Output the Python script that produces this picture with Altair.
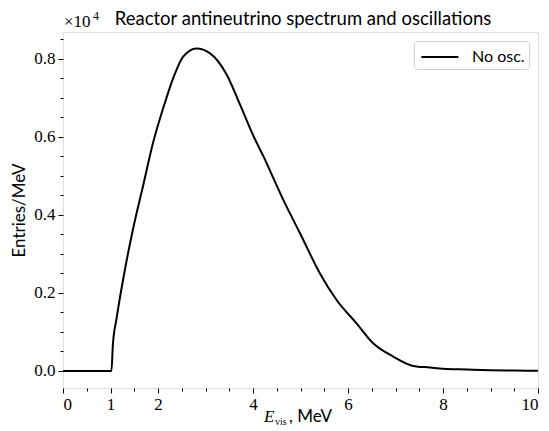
import altair as alt
import pandas as pd

energy = [0, 1.0, 1.02, 1.05, 1.13, 1.31, 1.48, 1.69, 1.90, 2.11, 2.32, 2.53, 2.81, 3.09,
          3.45, 3.73, 4.0, 4.22, 4.64, 4.99, 5.41, 5.76, 6.18, 6.53, 6.95, 7.37, 7.73,
          8.0, 8.5, 9.0, 9.5, 10.0]
entries = [0, 0, 0, 670, 1360, 2640, 3670, 4770, 5870, 6740, 7510, 8060, 8270, 8150,
           7590, 6820, 6050, 5500, 4380, 3530, 2500, 1820, 1220, 710, 370, 130, 90,
           60, 40, 20, 10, 5]
series = ["No osc."] * len(energy)

x_major = [0, 1, 2, 4, 6, 8, 10]
x_minor = [0.5, 1.5, 2.5, 3, 3.5, 4.5, 5, 5.5, 6.5, 7, 7.5, 8.5, 9, 9.5]
y_major = [0, 2000, 4000, 6000, 8000]
y_minor = [500, 1000, 1500, 2500, 3000, 3500, 4500, 5000, 5500, 6500, 7000, 7500, 8500]

title_text = "Reactor antineutrino spectrum and oscillations"

df = pd.DataFrame({"E": energy, "N": entries, "s": series})

XD = [0, 10]
YD = [-436, 8690]
W, H = 475, 356
serif = "Liberation Serif, Times New Roman, serif"
sans = "Lato"

base = alt.Chart(df)

line = base.mark_line(strokeWidth=2, interpolate="monotone").encode(
    x=alt.X("E:Q", scale=alt.Scale(domain=XD, nice=False, zero=False),
            axis=alt.Axis(values=x_major, format="d", title=None, grid=False,
                          tickSize=5, labelFont=serif, labelFontSize=17,
                          labelColor="black", tickColor="black", domain=False,
                          labelPadding=3)),
    y=alt.Y("N:Q", scale=alt.Scale(domain=YD, nice=False, zero=False),
            axis=alt.Axis(values=y_major, labelExpr="format(datum.value/10000, '.1f')",
                          title="Entries/MeV", titleFont=sans, titleFontSize=17,
                          titleFontWeight="normal", titleColor="black", titlePadding=5,
                          grid=False, tickSize=5, labelFont=serif, labelFontSize=17,
                          labelColor="black", tickColor="black", domain=False,
                          labelPadding=3)),
    color=alt.Color("s:N", scale=alt.Scale(range=["black"]),
                    legend=alt.Legend(title=None, orient="none", legendX=351, legendY=9,
                                      symbolType="M-0.78,0H2.58", symbolStrokeWidth=2,
                                      symbolSize=484, labelFont=sans, labelFontSize=16,
                                      labelColor="black", padding=4,
                                      strokeColor="#d0d0d0", cornerRadius=3,
                                      fillColor="white", labelOffset=30)),
)

minor_df = pd.DataFrame({"E": [0.0], "N": [0.0]})
minor = alt.Chart(minor_df).mark_point(opacity=0).encode(
    x=alt.X("E:Q", scale=alt.Scale(domain=XD, nice=False, zero=False),
            axis=alt.Axis(values=x_minor, labels=False, title=None, grid=False,
                          tickSize=3, tickColor="black", domain=False, orient="bottom")),
    y=alt.Y("N:Q", scale=alt.Scale(domain=YD, nice=False, zero=False),
            axis=alt.Axis(values=y_minor, labels=False, title=None, grid=False,
                          tickSize=3, tickColor="black", domain=False, orient="left")),
)

ann_df = pd.DataFrame({"t": [0]})


def label(text, x, y, font, size, style="normal", align="left"):
    return alt.Chart(ann_df).mark_text(
        text=text, font=font, fontSize=size, fontStyle=style, align=align,
        baseline="alphabetic", color="black").encode(x=alt.value(x), y=alt.value(y))


title_txt = label(title_text, 240, -7, sans, 18.5, align="center")
e_txt = label("E", 201, 390, serif, 17, style="italic")
vis_txt = label("vis", 212, 393, serif, 10)
mev_txt = label(", MeV", 226, 390, sans, 17)
exp_txt = label("×10", 1, -5, serif, 17)
sup_txt = label("4", 30, -12, serif, 12)

chart = alt.layer(line, minor, title_txt, e_txt, vis_txt, mev_txt, exp_txt, sup_txt).resolve_scale(
    x="independent", y="independent"
).properties(
    width=W, height=H,
    autosize=alt.AutoSizeParams(type="none"),
    padding={"left": 55, "top": 24, "right": 3, "bottom": 43},
).configure_view(stroke="black", strokeWidth=1.2).configure(background="white")

chart.save("out.html", embed_options={"renderer": "svg", "actions": False})
